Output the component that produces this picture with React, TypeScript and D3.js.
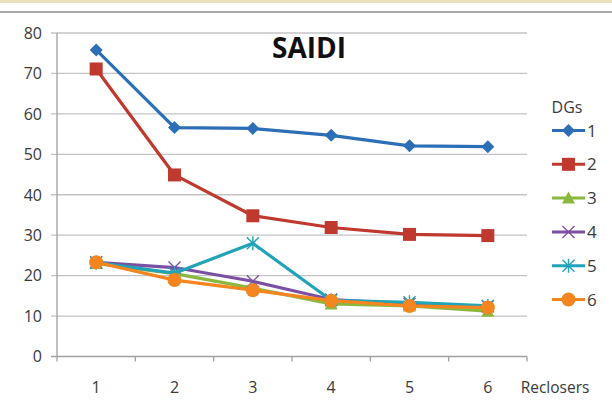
import React from "react";
import * as d3 from "d3";

const reclosers = ["1", "2", "3", "4", "5", "6"];
const yTicks = [0, 10, 20, 30, 40, 50, 60, 70, 80];
const dgLabels = ["1", "2", "3", "4", "5", "6"];

const dg1 = [75.8, 56.6, 56.4, 54.7, 52.1, 51.9];
const dg2 = [71.1, 44.9, 34.8, 31.9, 30.2, 29.9];
const dg3 = [23.0, 20.5, 16.9, 13.0, 12.5, 11.2];
const dg4 = [23.3, 22.0, 18.6, 14.1, 13.0, 12.4];
const dg5 = [23.2, 20.6, 28.0, 13.9, 13.4, 12.5];
const dg6 = [23.3, 18.9, 16.4, 13.8, 12.5, 12.1];

const seriesValues = [dg1, dg2, dg3, dg4, dg5, dg6];
const colors = ["#2c6fb7", "#c0392e", "#8ab83f", "#7b50a3", "#21a3b9", "#f4851f"];
const markers = ["diamond", "square", "triangle", "x", "asterisk", "circle"];

const W = 612;
const H = 404;
const left = 57;
const right = 527;
const top = 33;
const bottom = 356.5;
const FONT = "'Open Sans', sans-serif";

function Marker({ kind, x, y, color }: { kind: string; x: number; y: number; color: string }) {
  switch (kind) {
    case "diamond":
      return <path d={`M${x},${y - 6.5}L${x + 6.5},${y}L${x},${y + 6.5}L${x - 6.5},${y}Z`} fill={color} />;
    case "square":
      return <rect x={x - 6.5} y={y - 6.5} width={13} height={13} fill={color} />;
    case "triangle":
      return <path d={`M${x},${y - 6.5}L${x + 6.5},${y + 5.5}L${x - 6.5},${y + 5.5}Z`} fill={color} />;
    case "x":
      return (
        <path d={`M${x - 6},${y - 6}L${x + 6},${y + 6}M${x - 6},${y + 6}L${x + 6},${y - 6}`} stroke={color} strokeWidth={1.4} fill="none" />
      );
    case "asterisk":
      return (
        <path
          d={`M${x - 6},${y - 6}L${x + 6},${y + 6}M${x - 6},${y + 6}L${x + 6},${y - 6}M${x},${y - 7}L${x},${y + 7}`}
          stroke={color}
          strokeWidth={1.4}
          fill="none"
        />
      );
    default:
      return <circle cx={x} cy={y} r={7} fill={color} />;
  }
}

export default function App() {
  const x = d3.scaleBand<string>().domain(reclosers).range([left, right]);
  const y = d3.scaleLinear().domain([0, 80]).range([bottom, top]);
  const cx = (c: string) => (x(c) as number) + x.bandwidth() / 2;
  const line = d3
    .line<number>()
    .x((_, i) => cx(reclosers[i]))
    .y((v) => y(v));

  const legendY0 = 130.5;
  const legendStep = 33.8;

  return (
    <svg
      width={W}
      height={H}
      viewBox={`0 0 ${W} ${H}`}
      style={{ position: "absolute", left: 0, top: 0, background: "#fff" }}
      fontFamily={FONT}
    >
      <rect x={0} y={0} width={W} height={3} fill="#e9e0bd" />
      <rect x={0} y={11} width={W} height={2} fill="#a8a8a8" />

      {yTicks.map((t) => (
        <g key={t}>
          <line x1={left - 6} x2={right} y1={y(t)} y2={y(t)} stroke={t === 0 ? "#a0a0a0" : "#c4c4c4"} strokeWidth={1.3} />
          <text x={42} y={y(t)} dy="0.36em" textAnchor="end" fontSize={16} fill="#3a3a3a">
            {t}
          </text>
        </g>
      ))}
      <line x1={left} x2={left} y1={top} y2={bottom} stroke="#a0a0a0" strokeWidth={1.3} />
      {d3.range(reclosers.length + 1).map((i) => {
        const xx = left + i * x.bandwidth();
        return <line key={i} x1={xx} x2={xx} y1={bottom} y2={bottom + 5} stroke="#a0a0a0" strokeWidth={1.3} />;
      })}
      {reclosers.map((c) => (
        <text key={c} x={cx(c)} y={393} textAnchor="middle" fontSize={16} fill="#3a3a3a">
          {c}
        </text>
      ))}
      <text x={555} y={393} textAnchor="middle" fontSize={15.5} fill="#3a3a3a">
        Reclosers
      </text>

      <text x={309} y={58} textAnchor="middle" fontSize={28} fontWeight="bold" fill="#111">
        SAIDI
      </text>

      {seriesValues.map((vals, s) => (
        <g key={s}>
          <path d={line(vals) as string} fill="none" stroke={colors[s]} strokeWidth={3.2} strokeLinejoin="round" />
          {vals.map((v, i) => (
            <Marker key={i} kind={markers[s]} x={cx(reclosers[i])} y={y(v)} color={colors[s]} />
          ))}
        </g>
      ))}

      <text x={567} y={113} textAnchor="middle" fontSize={16} fill="#3a3a3a">
        DGs
      </text>
      {dgLabels.map((lab, s) => {
        const ly = legendY0 + s * legendStep;
        return (
          <g key={lab}>
            <line x1={552} x2={585} y1={ly} y2={ly} stroke={colors[s]} strokeWidth={3} />
            <Marker kind={markers[s]} x={568.5} y={ly} color={colors[s]} />
            <text x={587} y={ly} dy="0.36em" fontSize={17} fill="#3a3a3a">
              {lab}
            </text>
          </g>
        );
      })}
    </svg>
  );
}
